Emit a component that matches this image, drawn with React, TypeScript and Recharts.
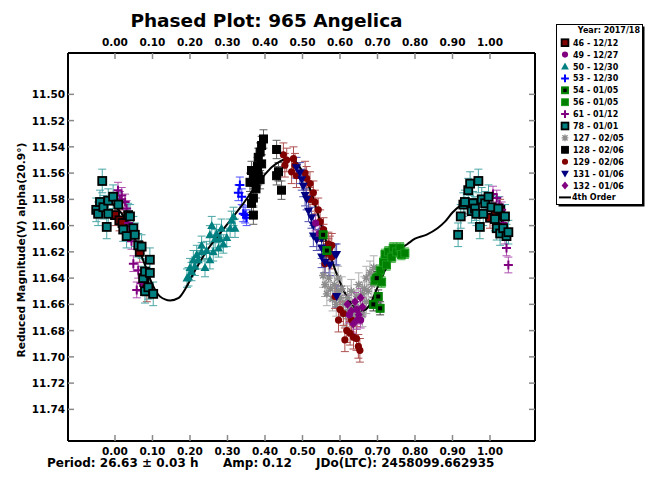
import React from 'react';
import { ScatterChart, Scatter, XAxis, YAxis, ErrorBar } from 'recharts';

const FONT = "'DejaVu Sans', Verdana, sans-serif";

// ---- tick labels ----
const phaseTicks = [0, 0.1, 0.2, 0.3, 0.4, 0.5, 0.6, 0.7, 0.8, 0.9, 1.0];
const magTicks = [11.5, 11.52, 11.54, 11.56, 11.58, 11.6, 11.62, 11.64, 11.66, 11.68, 11.7, 11.72, 11.74];
const xDomain = [-0.1253, 1.12];
const yDomain = [11.4685, 11.7641];

// ---- series values: [phase, reduced magnitude] ----
const s46 = [[0.000, 11.592], [0.012, 11.596], [0.020, 11.598], [0.066, 11.620], [0.078, 11.643], [0.085, 11.650], [1.000, 11.594], [1.015, 11.592], [1.027, 11.588]];
const s49 = [[0.535, 11.598], [0.545, 11.606], [0.625, 11.668], [0.645, 11.664], [0.655, 11.672]];
const s50 = [[0.192, 11.640], [0.196, 11.639], [0.200, 11.632], [0.204, 11.635], [0.209, 11.626], [0.213, 11.631], [0.218, 11.622], [0.222, 11.626], [0.231, 11.620], [0.231, 11.615], [0.240, 11.632], [0.244, 11.619], [0.253, 11.626], [0.253, 11.607], [0.258, 11.600], [0.262, 11.620], [0.267, 11.610], [0.271, 11.606], [0.276, 11.617], [0.280, 11.610], [0.284, 11.602], [0.289, 11.614], [0.298, 11.609], [0.307, 11.602], [0.311, 11.596], [0.316, 11.593], [0.320, 11.602]];
const s53 = [[0.329, 11.575], [0.333, 11.569], [0.338, 11.578], [0.342, 11.591], [0.347, 11.592], [0.351, 11.594]];
const s54 = [[0.555, 11.607], [0.565, 11.619], [0.689, 11.660], [0.698, 11.640], [0.702, 11.654], [0.707, 11.663]];
const s56 = [[0.693, 11.642], [0.702, 11.639], [0.707, 11.634], [0.711, 11.643], [0.716, 11.628], [0.720, 11.622], [0.724, 11.630], [0.729, 11.620], [0.738, 11.624], [0.742, 11.617], [0.751, 11.620], [0.760, 11.617], [0.764, 11.622], [0.773, 11.621]];
const s61 = [[0.008, 11.573], [0.013, 11.580], [0.018, 11.577], [0.027, 11.582], [0.031, 11.587], [0.036, 11.598], [0.044, 11.612], [0.049, 11.629], [0.058, 11.649], [0.062, 11.634], [0.071, 11.644], [1.008, 11.576], [1.018, 11.579], [1.025, 11.584], [1.031, 11.588], [1.035, 11.598], [1.040, 11.608], [1.044, 11.617], [1.049, 11.630]];
const s78 = [[-0.050, 11.588], [-0.045, 11.591], [-0.040, 11.582], [-0.034, 11.566], [-0.031, 11.586], [-0.022, 11.601], [-0.018, 11.581], [-0.018, 11.591], [-0.005, 11.578], [0.009, 11.584], [0.022, 11.603], [0.031, 11.608], [0.035, 11.592], [0.040, 11.593], [0.049, 11.602], [0.053, 11.607], [0.062, 11.615], [0.071, 11.616], [0.075, 11.640], [0.080, 11.635], [0.080, 11.650], [0.089, 11.647], [0.093, 11.626], [0.093, 11.636], [0.102, 11.652],
  [0.915, 11.607], [0.922, 11.593], [0.929, 11.584], [0.933, 11.582], [0.942, 11.573], [0.947, 11.568], [0.951, 11.589], [0.955, 11.583], [0.960, 11.587], [0.964, 11.591], [0.969, 11.566], [0.973, 11.601], [0.978, 11.580], [0.982, 11.591], [0.987, 11.583], [0.996, 11.578], [1.004, 11.586], [1.013, 11.595], [1.018, 11.602], [1.022, 11.587], [1.027, 11.606], [1.035, 11.602], [1.040, 11.593], [1.044, 11.608], [1.049, 11.605]];
const s127 = [[0.555, 11.638], [0.560, 11.645], [0.565, 11.652], [0.570, 11.640], [0.575, 11.648], [0.580, 11.656], [0.585, 11.645], [0.590, 11.660], [0.595, 11.650], [0.600, 11.655], [0.605, 11.648], [0.610, 11.660], [0.615, 11.668], [0.620, 11.655], [0.625, 11.662], [0.630, 11.650], [0.635, 11.666], [0.640, 11.658], [0.640, 11.670], [0.645, 11.654], [0.650, 11.645], [0.655, 11.662], [0.660, 11.652], [0.660, 11.668], [0.665, 11.648], [0.670, 11.640], [0.675, 11.650], [0.680, 11.636], [0.685, 11.645], [0.690, 11.632], [0.595, 11.640], [0.620, 11.666], [0.670, 11.658]];
const s128 = [[0.360, 11.567], [0.364, 11.558], [0.364, 11.583], [0.369, 11.562], [0.369, 11.579], [0.369, 11.592], [0.373, 11.567], [0.376, 11.572], [0.378, 11.560], [0.380, 11.555], [0.382, 11.548], [0.382, 11.562], [0.387, 11.544], [0.387, 11.565], [0.391, 11.539], [0.391, 11.553], [0.396, 11.534], [0.431, 11.542], [0.431, 11.562], [0.436, 11.559], [0.444, 11.573]];
const s129 = [[0.449, 11.546], [0.453, 11.554], [0.458, 11.550], [0.471, 11.559], [0.476, 11.549], [0.480, 11.554], [0.484, 11.562], [0.507, 11.560], [0.511, 11.564], [0.520, 11.568], [0.520, 11.580], [0.529, 11.575], [0.533, 11.582], [0.542, 11.588], [0.547, 11.597], [0.556, 11.603], [0.556, 11.608], [0.560, 11.629], [0.564, 11.621], [0.569, 11.614], [0.569, 11.619], [0.573, 11.617], [0.578, 11.615], [0.578, 11.624], [0.587, 11.654], [0.596, 11.672], [0.600, 11.664], [0.609, 11.667], [0.613, 11.687], [0.618, 11.680], [0.627, 11.682], [0.631, 11.672], [0.636, 11.685], [0.644, 11.686], [0.649, 11.692], [0.653, 11.695]];
const s131 = [[0.484, 11.556], [0.493, 11.560], [0.498, 11.565], [0.502, 11.570], [0.507, 11.577], [0.511, 11.580], [0.516, 11.589], [0.524, 11.594], [0.529, 11.600], [0.529, 11.608], [0.538, 11.611], [0.551, 11.610], [0.551, 11.617], [0.551, 11.624], [0.560, 11.628], [0.573, 11.630], [0.587, 11.622], [0.591, 11.622], [0.591, 11.654]];
const s132 = [[0.620, 11.660], [0.630, 11.665], [0.635, 11.675], [0.640, 11.658], [0.645, 11.672], [0.650, 11.668], [0.655, 11.655], [0.660, 11.662]];

// 4th order Fourier fit
const fit = [[-0.04, 11.580], [-0.02, 11.581], [0.00, 11.585], [0.03, 11.596], [0.06, 11.615], [0.08, 11.630], [0.10, 11.645], [0.12, 11.654], [0.147, 11.657], [0.17, 11.655], [0.19, 11.647], [0.21, 11.636], [0.23, 11.626], [0.25, 11.617], [0.28, 11.606], [0.31, 11.595], [0.34, 11.584], [0.37, 11.572], [0.40, 11.561], [0.42, 11.555], [0.44, 11.551], [0.46, 11.549], [0.48, 11.551], [0.50, 11.559], [0.52, 11.572], [0.54, 11.590], [0.56, 11.609], [0.58, 11.628], [0.60, 11.643], [0.62, 11.655], [0.64, 11.663], [0.66, 11.665], [0.68, 11.660], [0.70, 11.647], [0.72, 11.634], [0.74, 11.624], [0.76, 11.618], [0.78, 11.614], [0.80, 11.610], [0.83, 11.607], [0.86, 11.602], [0.88, 11.597], [0.90, 11.590], [0.92, 11.585], [0.95, 11.580], [0.98, 11.580], [1.00, 11.584], [1.03, 11.596], [1.05, 11.607]];

// ---- series styling ----
const seriesDefs = [
  { id: '127', label: '127 - 02/05', pts: s127, err: 0.009, kind: 'ast', c: '#8c8c8c', ec: '#b0b0b0' },
  { id: '129', label: '129 - 02/06', pts: s129, err: 0.009, kind: 'circ', c: '#800000', ec: '#b05050' },
  { id: '131', label: '131 - 01/06', pts: s131, err: 0.008, kind: 'dtri', c: '#000080', ec: '#5050b0' },
  { id: '132', label: '132 - 01/06', pts: s132, err: 0.007, kind: 'dia', c: '#800080', ec: '#b050b0' },
  { id: '49', label: '49 - 12/27', pts: s49, err: 0.006, kind: 'circ', c: '#800080', ec: '#b050b0' },
  { id: '56', label: '56 - 01/05', pts: s56, err: 0.004, kind: 'sqg', c: '#008000', ec: '#40b040' },
  { id: '54', label: '54 - 01/05', pts: s54, err: 0.005, kind: 'sqc', c: '#008000', ec: '#404040' },
  { id: '46', label: '46 - 12/12', pts: s46, err: 0.008, kind: 'sqk', c: '#800000', ec: '#b05050' },
  { id: '61', label: '61 - 01/12', pts: s61, err: 0.006, kind: 'plus', c: '#800080', ec: '#b050b0' },
  { id: '78', label: '78 - 01/01', pts: s78, err: 0.009, kind: 'sqk', c: '#008080', ec: '#4aa6a6' },
  { id: '50', label: '50 - 12/30', pts: s50, err: 0.007, kind: 'tri', c: '#008080', ec: '#4aa6a6' },
  { id: '53', label: '53 - 12/30', pts: s53, err: 0.006, kind: 'plus', c: '#0000ff', ec: '#5050ff' },
  { id: '128', label: '128 - 02/06', pts: s128, err: 0.007, kind: 'sq', c: '#000000', ec: '#606060' },
];
const legendOrder = ['46', '49', '50', '53', '54', '56', '61', '78', '127', '128', '129', '131', '132'];

function Marker({ kind, cx, cy, c, k = 1 }: any) {
  const h = 4 * k;
  switch (kind) {
    case 'sqk':
      return <rect x={cx - h} y={cy - h} width={2 * h} height={2 * h} fill={c} stroke="#000" strokeWidth={1.8} />;
    case 'sq':
      return <rect x={cx - h} y={cy - h} width={2 * h} height={2 * h} fill={c} stroke={c} strokeWidth={1} />;
    case 'sqg':
      return <rect x={cx - h} y={cy - h} width={2 * h} height={2 * h} fill={c} stroke="#1a9a1a" strokeWidth={1} />;
    case 'sqc':
      return (
        <g>
          <rect x={cx - h} y={cy - h} width={2 * h} height={2 * h} fill={c} stroke={c} strokeWidth={1} />
          <rect x={cx - h / 2} y={cy - h / 2} width={h} height={h} fill="#000" />
        </g>
      );
    case 'circ':
      return <circle cx={cx} cy={cy} r={3.6 * k} fill={c} />;
    case 'tri':
      return <polygon points={`${cx},${cy - h - 0.5} ${cx + h + 0.5},${cy + h - 0.5} ${cx - h - 0.5},${cy + h - 0.5}`} fill={c} />;
    case 'dtri':
      return <polygon points={`${cx},${cy + h + 0.5} ${cx + h + 0.5},${cy - h + 0.5} ${cx - h - 0.5},${cy - h + 0.5}`} fill={c} />;
    case 'dia':
      return <polygon points={`${cx},${cy - h - 0.5} ${cx + h},${cy} ${cx},${cy + h + 0.5} ${cx - h},${cy}`} fill={c} />;
    case 'plus':
      return <path d={`M${cx - h - 0.5},${cy}H${cx + h + 0.5}M${cx},${cy - h - 0.5}V${cy + h + 0.5}`} stroke={c} strokeWidth={2} fill="none" />;
    case 'ast':
      return (
        <path
          d={`M${cx - h},${cy}H${cx + h}M${cx},${cy - h}V${cy + h}M${cx - 3 * k},${cy - 3 * k}L${cx + 3 * k},${cy + 3 * k}M${cx - 3 * k},${cy + 3 * k}L${cx + 3 * k},${cy - 3 * k}`}
          stroke={c}
          strokeWidth={1.4}
          fill="none"
        />
      );
    default:
      return null;
  }
}

const BottomTick = (p: any) => {
  const { x, y, payload } = p;
  return (
    <g>
      <line x1={x} x2={x} y1={y} y2={y - 6} stroke="#8a8a8a" strokeWidth={1.5} />
      <text x={x} y={y + 14} textAnchor="middle" fontFamily={FONT} fontWeight="bold" fontSize={10.5} fill="#000">
        {Number(payload.value).toFixed(2)}
      </text>
    </g>
  );
};
const TopTick = (p: any) => {
  const { x, y, payload } = p;
  return (
    <g>
      <line x1={x} x2={x} y1={y} y2={y + 6} stroke="#8a8a8a" strokeWidth={1.5} />
      <text x={x} y={y - 7} textAnchor="middle" fontFamily={FONT} fontWeight="bold" fontSize={10.5} fill="#000">
        {Number(payload.value).toFixed(2)}
      </text>
    </g>
  );
};
const LeftTick = (p: any) => {
  const { x, y, payload } = p;
  return (
    <g>
      <line x1={x} x2={x + 6} y1={y} y2={y} stroke="#8a8a8a" strokeWidth={1.5} />
      <text x={x - 3} y={y + 4} textAnchor="end" fontFamily={FONT} fontWeight="bold" fontSize={10.5} fill="#000">
        {Number(payload.value).toFixed(2)}
      </text>
    </g>
  );
};
const RightTick = (p: any) => {
  const { x, y } = p;
  return <line x1={x} x2={x - 6} y1={y} y2={y} stroke="#8a8a8a" strokeWidth={1.5} />;
};

const toRows = (pts: number[][], err: number) => pts.map(([x, y]) => ({ x, y, e: err }));
const fitRows = fit.map(([x, y]) => ({ x, y }));

export default function App() {
  const axisLine = { stroke: '#000', strokeWidth: 2 };
  return (
    <div style={{ position: 'absolute', left: 0, top: 0, width: 652, height: 477, background: '#fff' }}>
      <ScatterChart width={652} height={477} margin={{ top: 23, right: 107, bottom: 6, left: 18 }}>
        <XAxis xAxisId="b" type="number" dataKey="x" domain={xDomain} allowDataOverflow ticks={phaseTicks} interval={0}
          height={30} tickSize={0} tickMargin={0} tick={BottomTick} axisLine={axisLine} tickLine={false} />
        <XAxis xAxisId="t" orientation="top" type="number" dataKey="x" domain={xDomain} allowDataOverflow ticks={phaseTicks} interval={0}
          height={30} tickSize={0} tickMargin={0} tick={TopTick} axisLine={axisLine} tickLine={false} />
        <YAxis yAxisId="l" type="number" dataKey="y" domain={yDomain} allowDataOverflow reversed ticks={magTicks} interval={0}
          width={50} tickSize={0} tickMargin={0} tick={LeftTick} axisLine={axisLine} tickLine={false} />
        <YAxis yAxisId="r" orientation="right" type="number" dataKey="y" domain={yDomain} allowDataOverflow reversed ticks={magTicks} interval={0}
          width={10} tickSize={0} tickMargin={0} tick={RightTick} axisLine={axisLine} tickLine={false} />
        <Scatter xAxisId="t" yAxisId="r" data={fitRows} isAnimationActive={false} shape={() => <g />} />
        <Scatter
          xAxisId="b"
          yAxisId="l"
          data={fitRows}
          isAnimationActive={false}
          line={{ stroke: '#000', strokeWidth: 2 }}
          lineType="joint"
          lineJointType="monotoneX"
          shape={() => <g />}
        />
        {seriesDefs.map((s) => (
          <Scatter
            key={s.id}
            xAxisId="b"
            yAxisId="l"
            data={toRows(s.pts, s.err)}
            isAnimationActive={false}
            shape={(p: any) => <Marker kind={s.kind} cx={p.cx} cy={p.cy} c={s.c} />}
          >
            <ErrorBar dataKey="e" direction="y" width={4} stroke={s.ec} strokeWidth={1} />
          </Scatter>
        ))}
      </ScatterChart>
      <svg width={652} height={477} style={{ position: 'absolute', left: 0, top: 0, pointerEvents: 'none' }}>
        <text x={266.5} y={27} textAnchor="middle" fontFamily={FONT} fontWeight="bold" fontSize={18.5} fill="#000">
          Phased Plot: 965 Angelica
        </text>
        <text x={21} y={250} transform="rotate(-90 21 250)" textAnchor="middle" dominantBaseline="central" fontFamily={FONT} fontWeight="bold" fontSize={10.6} fill="#000">
          Reduced Magnitude(V) alpha(20.9°)
        </text>
        <g fontFamily={FONT} fontWeight="bold" fontSize={12} fill="#000">
          <text x={47} y={467}>Period: 26.63 ± 0.03 h</text>
          <text x={223} y={467}>Amp: 0.12</text>
          <text x={316} y={467}>JDo(LTC): 2458099.662935</text>
        </g>
        <rect x={558.5} y={26.5} width={86} height={180} fill="#000" />
        <rect x={556.5} y={24.5} width={86} height={180} fill="#fff" stroke="#000" strokeWidth={1} />
        <text x={640} y={33} textAnchor="end" fontFamily={FONT} fontWeight="bold" fontSize={8} fill="#000">Year: 2017/18</text>
        {legendOrder.map((id, i) => {
          const s = seriesDefs.find((d) => d.id === id)!;
          const cy = 42.7 + 11.9 * i;
          return (
            <g key={id}>
              <Marker kind={s.kind} cx={565} cy={cy} c={s.c} k={0.85} />
              <text x={573} y={cy + 3} fontFamily={FONT} fontWeight="bold" fontSize={8} fill="#000">{s.label}</text>
            </g>
          );
        })}
        <line x1={559} x2={571} y1={42.7 + 11.9 * 13} y2={42.7 + 11.9 * 13} stroke="#000" strokeWidth={2} />
        <text x={572} y={42.7 + 11.9 * 13 + 3} fontFamily={FONT} fontWeight="bold" fontSize={8} fill="#000">4th Order</text>
      </svg>
    </div>
  );
}
